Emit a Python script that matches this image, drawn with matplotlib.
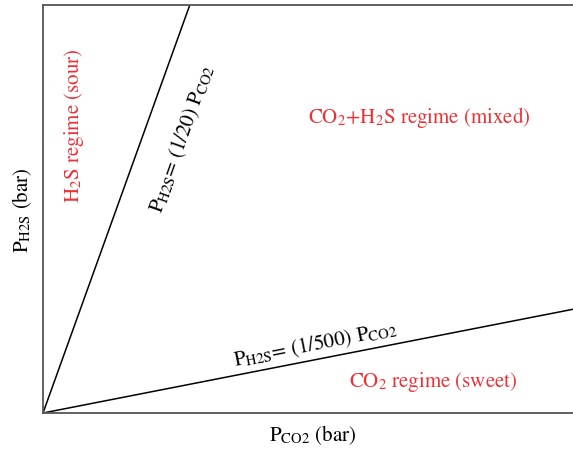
import matplotlib
matplotlib.use("Agg")
import matplotlib.pyplot as plt
import numpy as np

plt.rcParams['font.family'] = ['STIXGeneral', 'DejaVu Serif']
plt.rcParams['mathtext.fontset'] = 'stix'

# Schematic regime boundaries (axis units are arbitrary, 0..1)
boundary_names = ["P$_{\\mathrm{H2S}}$= (1/20) P$_{\\mathrm{CO2}}$",
                  "P$_{\\mathrm{H2S}}$= (1/500) P$_{\\mathrm{CO2}}$"]
boundary_x = [[0.0, 0.274], [0.0, 1.0]]
boundary_y = [[0.0, 1.0], [0.0, 0.257]]

regime_labels = ["H$_2$S regime (sour)",
                 "CO$_2$+H$_2$S regime (mixed)",
                 "CO$_2$ regime (sweet)"]

x_label = "P$_{\\mathrm{CO2}}$ (bar)"
y_label = "P$_{\\mathrm{H2S}}$ (bar)"

red = "#ee3035"
spine_col = "#555555"
fs = 15

fig = plt.figure(figsize=(5.73, 4.49), dpi=100)
ax = fig.add_axes([43/573, 36/449, 1 - 43/573 + 0.01, 408/449])
ax.set_xlim(0, 1)
ax.set_ylim(0, 1)

for xs, ys in zip(boundary_x, boundary_y):
    ax.plot(xs, ys, color="black", lw=1.1, solid_capstyle="butt")

for side in ["left", "bottom", "top"]:
    ax.spines[side].set_color(spine_col)
    ax.spines[side].set_linewidth(1.3)
ax.spines["right"].set_visible(False)
ax.set_xticks([])
ax.set_yticks([])

# Boundary annotations, aligned with the line direction on screen
ang1 = np.degrees(np.arctan2(408, 145))
ang2 = np.degrees(np.arctan2(105, 530))
ax.text(0.260, 0.673, boundary_names[0], rotation=ang1, rotation_mode="anchor",
        ha="center", va="center", fontsize=fs, color="black",
        transform=ax.transAxes)
ax.text(0.508, 0.168, boundary_names[1], rotation=ang2, rotation_mode="anchor",
        ha="center", va="center", fontsize=fs, color="black",
        transform=ax.transAxes)

# Regime names
ax.text(0.057, 0.703, regime_labels[0], rotation=90, ha="center", va="center",
        fontsize=fs, color=red, transform=ax.transAxes)
ax.text(0.702, 0.725, regime_labels[1], ha="center", va="center",
        fontsize=fs, color=red, transform=ax.transAxes)
ax.text(0.728, 0.075, regime_labels[2], ha="center", va="center",
        fontsize=fs, color=red, transform=ax.transAxes)

fig.text(313/573, 1 - 435/449, x_label, ha="center", va="center", fontsize=fs)
fig.text(22/573, 1 - 210/449, y_label, ha="center", va="center", fontsize=fs,
         rotation=90)

fig.savefig("out.png", dpi=100)
